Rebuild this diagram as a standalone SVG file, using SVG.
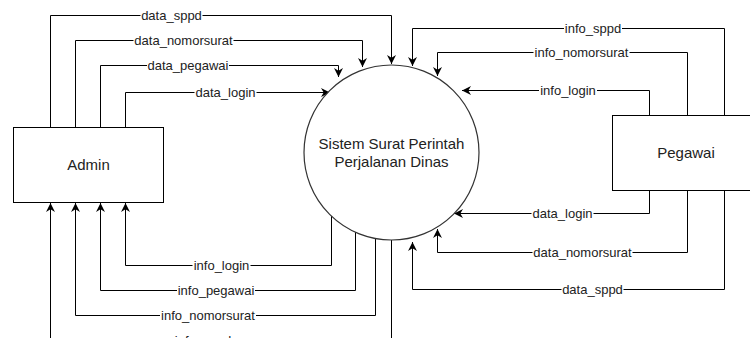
<svg xmlns="http://www.w3.org/2000/svg" width="750" height="338" viewBox="0 0 750 338">
  <style>
    .node { fill: #ffffff; stroke: #000000; stroke-width: 1; }
    .proc { fill: #ffffff; stroke: #333333; stroke-width: 1.2; }
    .name { font-family: "Liberation Sans", Arial, sans-serif; font-size: 15px; fill: #222222; text-anchor: middle; }
    .flow { fill: none; stroke: #000000; stroke-width: 1; marker-end: url(#arrow); }
    .bg { fill: #ffffff; }
    .lbl { font-family: "Liberation Sans", Arial, sans-serif; font-size: 13px; fill: #222222; text-anchor: middle; }
  </style>
  <defs>
    <marker id="arrow" viewBox="0 0 10 10" refX="10" refY="5" markerWidth="10" markerHeight="9" markerUnits="userSpaceOnUse" orient="auto">
      <path d="M0,0 L10,5 L0,10 L3,5 Z" fill="#000000"/>
    </marker>
  </defs>
  <rect width="750" height="338" fill="#ffffff"/>

  <g id="connectors">
    <!-- Admin to process -->
    <path class="flow" d="M50.5,127 V15.5 H391.5 V64"/>
    <rect class="bg" x="140.5" y="8" width="62" height="15"/>
    <text class="lbl" x="171.5" y="20">data_sppd</text>

    <path class="flow" d="M75.5,127 V40.5 H362.5 V67"/>
    <rect class="bg" x="133.5" y="33" width="100" height="15"/>
    <text class="lbl" x="183.5" y="45">data_nomorsurat</text>

    <path class="flow" d="M100.5,127 V65.5 H338.5 V77"/>
    <rect class="bg" x="147" y="58" width="82" height="15"/>
    <text class="lbl" x="188" y="70">data_pegawai</text>

    <path class="flow" d="M125.5,127 V92.5 H330"/>
    <rect class="bg" x="194.5" y="85" width="62" height="15"/>
    <text class="lbl" x="225.5" y="97">data_login</text>

    <!-- process to Admin -->
    <path class="flow" d="M331.5,216 V265.5 H125.5 V203"/>
    <rect class="bg" x="192.5" y="258" width="58" height="15"/>
    <text class="lbl" x="221.5" y="270">info_login</text>

    <path class="flow" d="M355.5,232 V290.5 H100.5 V203"/>
    <rect class="bg" x="177" y="283" width="78" height="15"/>
    <text class="lbl" x="216" y="295">info_pegawai</text>

    <path class="flow" d="M375.5,239 V315.5 H75.5 V203"/>
    <rect class="bg" x="160" y="308" width="96" height="15"/>
    <text class="lbl" x="208" y="320">info_nomorsurat</text>

    <path class="flow" d="M391.5,240 V340.5 H50.5 V203"/>
    <rect class="bg" x="174" y="333" width="58" height="15"/>
    <text class="lbl" x="203" y="345">info_sppd</text>

    <!-- Pegawai to process -->
    <path class="flow" d="M724.5,115 V28.5 H412.5 V66"/>
    <rect class="bg" x="564" y="21" width="58" height="15"/>
    <text class="lbl" x="593" y="33">info_sppd</text>

    <path class="flow" d="M687.5,115 V52.5 H437.5 V76"/>
    <rect class="bg" x="533.5" y="45" width="96" height="15"/>
    <text class="lbl" x="581.5" y="57">info_nomorsurat</text>

    <path class="flow" d="M649.5,115 V90.5 H462"/>
    <rect class="bg" x="539" y="83" width="58" height="15"/>
    <text class="lbl" x="568" y="95">info_login</text>

    <path class="flow" d="M649.5,190 V213.5 H454"/>
    <rect class="bg" x="531.5" y="206" width="62" height="15"/>
    <text class="lbl" x="562.5" y="218">data_login</text>

    <path class="flow" d="M687.5,190 V252.5 H437.5 V229"/>
    <rect class="bg" x="532.5" y="245" width="100" height="15"/>
    <text class="lbl" x="582.5" y="257">data_nomorsurat</text>

    <path class="flow" d="M724.5,190 V289.5 H412.5 V242"/>
    <rect class="bg" x="561.5" y="282" width="62" height="15"/>
    <text class="lbl" x="592.5" y="294">data_sppd</text>
  </g>

  <g id="admin">
    <rect class="node" x="13.5" y="127.5" width="150" height="75"/>
    <text class="name" x="88.5" y="170">Admin</text>
  </g>

  <g id="pegawai">
    <rect class="node" x="612.5" y="115.5" width="150" height="75"/>
    <text class="name" x="686" y="158">Pegawai</text>
  </g>

  <g id="sistem-sppd">
    <circle class="proc" cx="391.5" cy="152.5" r="87.5"/>
    <text class="name" x="391.5" y="149">Sistem Surat Perintah</text>
    <text class="name" x="391.5" y="167">Perjalanan Dinas</text>
  </g>
</svg>
